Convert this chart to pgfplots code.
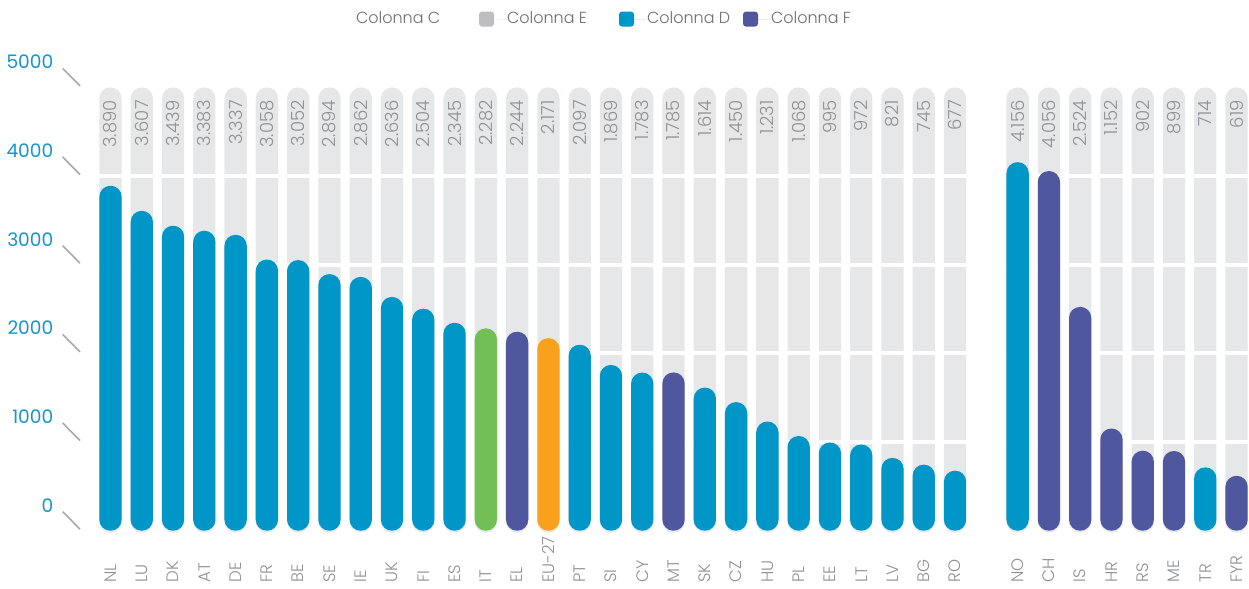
\documentclass[border=0pt]{standalone}
\usepackage{fontspec}
\IfFontExistsTF{Poppins Light}{\setmainfont{Poppins Light}}{\setmainfont{Poppins}}
\newfontfamily\tickfont{Poppins}
\usepackage{pgfplots}
\pgfplotsset{compat=1.18}
\usepackage{pgfplotstable}

\definecolor{barblue}{HTML}{0096C8}
\definecolor{barpurple}{HTML}{4F589E}
\definecolor{bargreen}{HTML}{72BF55}
\definecolor{barorange}{HTML}{F7A11D}
\definecolor{bggray}{HTML}{E6E7E8}
\definecolor{keygray}{HTML}{BCBEC0}
\definecolor{txtgray}{HTML}{8E9093}
\definecolor{keytxt}{HTML}{6D6E71}
\definecolor{tickblue}{HTML}{1496CC}
\definecolor{slashgray}{HTML}{A7A9AC}

% Colonna E: background column, value of Colonna C printed on it
\pgfplotstableread{
x  c     e
0  3890  5000
1  3607  5000
2  3439  5000
3  3383  5000
4  3337  5000
5  3058  5000
6  3052  5000
7  2894  5000
8  2862  5000
9  2636  5000
10 2504  5000
11 2345  5000
12 2282  5000
13 2244  5000
14 2171  5000
15 2097  5000
16 1869  5000
17 1783  5000
18 1785  5000
19 1614  5000
20 1450  5000
21 1231  5000
22 1068  5000
23 995   5000
24 972   5000
25 821   5000
26 745   5000
27 677   5000
29 4156  5000
30 4056  5000
31 2524  5000
32 1152  5000
33 902   5000
34 899   5000
35 714   5000
36 619   5000
}\colE

% Colonna D
\pgfplotstableread{
x  y
0  3890
1  3607
2  3439
3  3383
4  3337
5  3058
6  3052
7  2894
8  2862
9  2636
10 2504
11 2345
15 2097
16 1869
17 1783
19 1614
20 1450
21 1231
22 1068
23 995
24 972
25 821
26 745
27 677
29 4156
35 714
}\colD

% Colonna F
\pgfplotstableread{
x  y
13 2244
18 1785
30 4056
31 2524
32 1152
33 902
34 899
36 619
}\colF

% IT and EU-27
\pgfplotstableread{
x  y
12 2282
}\colIT
\pgfplotstableread{
x  y
14 2171
}\colEU

\pgfplotsset{
  roundbar/.style={forget plot, ybar, bar shift=0pt, bar width=11.15pt, draw=none, rounded corners=5.5pt,
    fill=#1, preaction={fill=black!9, transform canvas={yshift=-1pt}}},
}

\begin{document}
\begin{tikzpicture}
\useasboundingbox (0,0) rectangle (624.5pt,294.5pt);
\begin{axis}[
  at={(30.225pt,29.15pt)}, anchor=south west,
  scale only axis, width=594.32pt, height=221.675pt,
  xmin=-1.6, xmax=36.4, ymin=0, ymax=5000,
  clip=false,
  axis line style={draw=none},
  major tick length=0pt,
  xtick={0,1,2,3,4,5,6,7,8,9,10,11,12,13,14,15,16,17,18,19,20,21,22,23,24,25,26,27,29,30,31,32,33,34,35,36},
  xticklabels={NL,LU,DK,AT,DE,FR,BE,SE,IE,UK,FI,ES,IT,EL,EU-27,PT,SI,CY,MT,SK,CZ,HU,PL,EE,LT,LV,BG,RO,NO,CH,IS,HR,RS,ME,TR,FYR},
  xticklabel style={rotate=90, anchor=west, inner sep=0pt, font=\fontsize{8.3}{10}\selectfont, text=txtgray},
  xticklabel shift=26.15pt,
  ytick={0,1000,2000,3000,4000,5000},
  yticklabel style={anchor=east, inner sep=0pt, xshift=-3.4pt, yshift=12.7pt, font=\tickfont\fontsize{9.3}{11}\selectfont, text=tickblue},
  /pgf/number format/1000 sep={},
  /pgf/number format/assume math mode=true,
  legend columns=4,
  legend style={draw=none, fill=none, inner sep=0pt, outer sep=0pt,
    at={(0.2251,1.154)}, anchor=west,
    nodes={inner sep=0pt, font=\fontsize{8}{10}\selectfont, text=keytxt},
    /tikz/every even column/.style={column sep=0pt}},
  legend image code/.code={\path[#1, rounded corners=1.5pt] (0pt,-3.75pt) rectangle (7.5pt,3.75pt); \path (7.5pt,0pt) -- (14pt,0pt);},
]
% background columns with the printed values
\addplot[forget plot, ybar, bar shift=0pt, bar width=11.15pt, fill=bggray, draw=none, rounded corners=5.5pt,
  point meta=explicit,
  nodes near coords={\pgfmathprintnumber[1000 sep={.}, fixed, precision=0]{\pgfplotspointmeta}},
  nodes near coords style={yshift=-6.3pt, rotate=90, anchor=east, inner sep=0pt, font=\fontsize{9}{10}\selectfont, text=txtgray},
] table[x=x, y=e, meta=c] {\colE};

% white gaps across the background columns
\pgfplotsinvokeforeach{1000,2000,3000,4000}{
  \draw[white, line width=2pt] (axis cs:-1,#1) -- (axis cs:37,#1);
}

% slanted tick marks
\pgfplotsinvokeforeach{0,1000,2000,3000,4000,5000}{
  \draw[slashgray, line width=0.8pt] ([yshift=0.75pt]axis cs:-0.975,#1) -- ([xshift=-8.65pt, yshift=9.5pt]axis cs:-0.975,#1);
}

\addplot[roundbar=barblue] table[x=x, y=y] {\colD};
\addplot[roundbar=barpurple] table[x=x, y=y] {\colF};
\addplot[roundbar=bargreen] table[x=x, y=y] {\colIT};
\addplot[roundbar=barorange] table[x=x, y=y] {\colEU};

\addlegendimage{draw=none, fill=none}
\addlegendentry{\makebox[61.5pt][l]{Colonna C}}
\addlegendimage{draw=none, fill=keygray}
\addlegendentry{\makebox[56pt][l]{Colonna E}}
\addlegendimage{draw=none, fill=barblue}
\addlegendentry{\makebox[48pt][l]{Colonna D}}
\addlegendimage{draw=none, fill=barpurple}
\addlegendentry{Colonna F}
\end{axis}
\end{tikzpicture}
\end{document}
